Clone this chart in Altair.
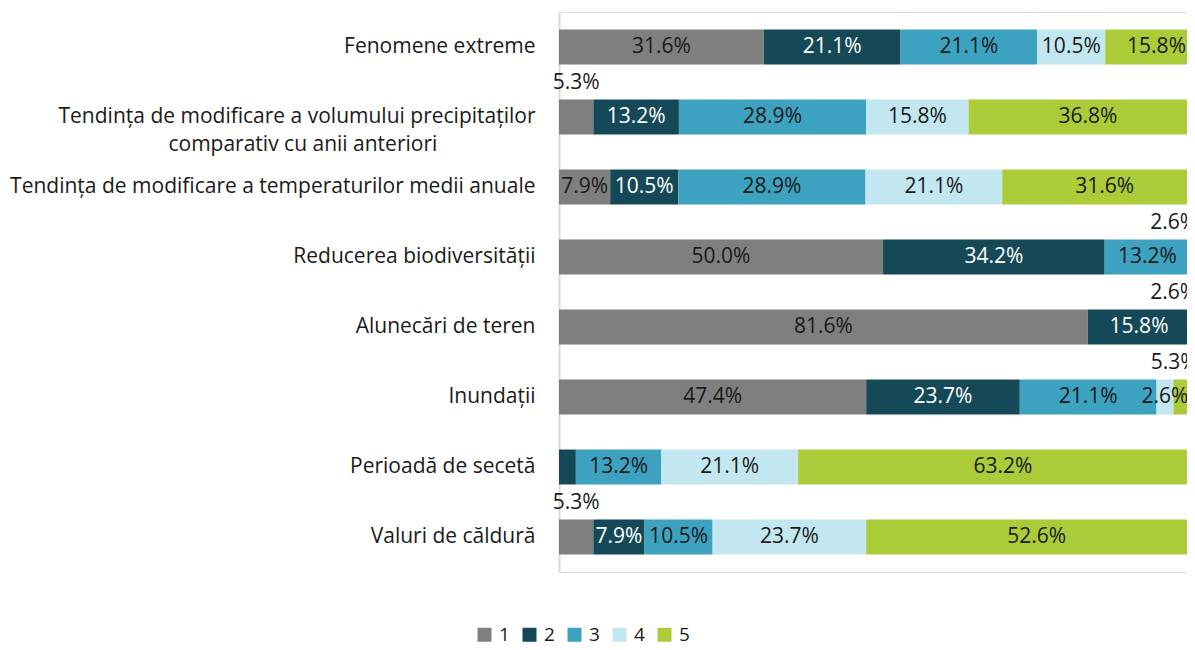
import altair as alt
import pandas as pd

FONT = "Open Sans"

categories = [
    "Fenomene extreme",
    "Tendința de modificare a volumului precipitaților\ncomparativ cu anii anteriori",
    "Tendința de modificare a temperaturilor medii anuale",
    "Reducerea biodiversității",
    "Alunecări de teren",
    "Inundații",
    "Perioadă de secetă",
    "Valuri de căldură",
]
series = ["1", "2", "3", "4", "5"]
colors = ["#7F7F7F", "#154957", "#3CA2C0", "#C2E7F0", "#ABCB38"]

s1 = [31.6, 5.3, 7.9, 50.0, 81.6, 47.4, 0.0, 5.3]
s2 = [21.1, 13.2, 10.5, 34.2, 15.8, 23.7, 2.6, 7.9]
s3 = [21.1, 28.9, 28.9, 13.2, 0.0, 21.1, 13.2, 10.5]
s4 = [10.5, 15.8, 21.1, 0.0, 2.6, 2.6, 21.1, 23.7]
s5 = [15.8, 36.8, 31.6, 2.6, 0.0, 5.3, 63.2, 52.6]

# label placement: in = inside bar, al = above (left), ar = above (right end), no = hidden
p1 = ["in", "al", "in", "in", "in", "in", "no", "al"]
p2 = ["in", "in", "in", "in", "in", "in", "no", "in"]
p3 = ["in", "in", "in", "in", "no", "in", "in", "in"]
p4 = ["in", "in", "in", "no", "ar", "in", "in", "in"]
p5 = ["in", "in", "in", "ar", "no", "ar", "in", "in"]

rows = []
for s, vals, pos in zip(series, [s1, s2, s3, s4, s5], [p1, p2, p3, p4, p5]):
    for c, v, p in zip(categories, vals, pos):
        rows.append({"cat": c, "series": s, "value": v, "lab": p})
df = pd.DataFrame(rows)

# second line of the two-line label centred under the first one
PAD = "\u00a0" * 18 + "\u2060"
label_expr = (
    "indexof(datum.value, '\\n') >= 0 ? "
    "[split(datum.value, '\\n')[0], split(datum.value, '\\n')[1] + '" + PAD + "'] : datum.value"
)

yenc = alt.Y(
    "cat:N",
    sort=categories,
    scale=alt.Scale(paddingInner=0.5, paddingOuter=0.25),
    axis=alt.Axis(
        title=None,
        ticks=False,
        labelPadding=24,
        labelLimit=0,
        labelFont=FONT,
        labelFontSize=21,
        labelColor="#1a1a1a",
        labelLineHeight=28,
        labelExpr=label_expr,
        domainColor="#d9d9d9",
        domainWidth=2,
        grid=False,
    ),
)
xscale = alt.Scale(domain=[0, 96.9], nice=False, zero=True)

base = (
    alt.Chart(df)
    .transform_stack(
        stack="value",
        groupby=["cat"],
        as_=["x0", "x1"],
        sort=[alt.SortField("series", "ascending")],
    )
    .transform_calculate(
        mid="(datum.x0 + datum.x1) / 2",
        txt="format(datum.value, '.1f') + '%'",
    )
)

bars = base.mark_bar(clip=True).encode(
    x=alt.X("x0:Q", scale=xscale, axis=None),
    x2="x1:Q",
    y=yenc,
    color=alt.Color(
        "series:N",
        scale=alt.Scale(domain=series, range=colors),
        legend=alt.Legend(
            title=None,
            orient="none",
            direction="horizontal",
            legendX=-84,
            legendY=613,
            symbolType="square",
            symbolSize=196,
            symbolStrokeWidth=0,
            labelFont=FONT,
            labelFontSize=19,
            labelColor="#1a1a1a",
            labelOffset=5,
            columnPadding=10,
        ),
    ),
)

txt_color = alt.condition("datum.series == '2'", alt.value("#ffffff"), alt.value("#1a1a1a"))

inside = base.transform_filter("datum.lab == 'in'").mark_text(
    font=FONT, fontSize=21, clip=True
).encode(x=alt.X("mid:Q", scale=xscale), y=yenc, text="txt:N", color=txt_color)

above_l = base.transform_filter("datum.lab == 'al'").mark_text(
    font=FONT, fontSize=21, dy=-34, color="#1a1a1a"
).encode(x=alt.X("mid:Q", scale=xscale), y=yenc, text="txt:N")

above_r = base.transform_filter("datum.lab == 'ar'").mark_text(
    font=FONT, fontSize=21, dy=-34, dx=-10, align="right", clip=True, color="#1a1a1a"
).encode(x=alt.X("x1:Q", scale=xscale), y=yenc, text="txt:N")

chart = (
    alt.layer(bars, inside, above_l, above_r)
    .properties(
        width=628,
        height=560,
        padding={"left": 551, "top": 4, "right": 0, "bottom": 70},
        autosize=alt.AutoSizeParams(type="none"),
    )
    .configure_view(stroke=None)
    .configure(background="white")
)

chart.save("out.html", embed_options={"renderer": "svg", "actions": False})
